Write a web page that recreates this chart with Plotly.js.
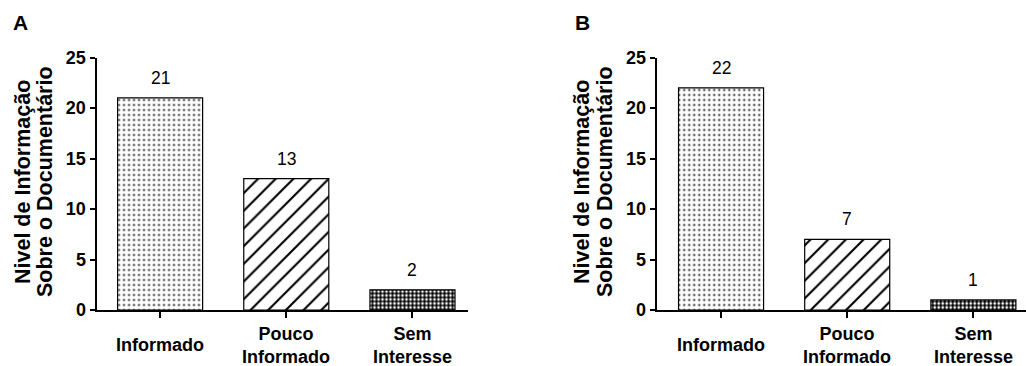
<!DOCTYPE html>
<html><head><meta charset="utf-8">
<script src="https://cdn.plot.ly/plotly-3.0.1.min.js"></script>
<style>html,body{margin:0;padding:0;background:#fff}</style>
</head><body><div id="chart" style="width:1026px;height:366px"></div>
<script>
const categories = ['Informado', 'Pouco Informado', 'Sem Interesse'];
const categoryLabels = ['Informado', 'Pouco<br>Informado', 'Sem<br>Interesse'];
const valuesA = [21, 13, 2];
const valuesB = [22, 7, 1];
const yTicks = [0, 5, 10, 15, 20, 25];
const panelLabels = ['A', 'B'];
const yTitleLines = ['Nivel de Informação', 'Sobre o Documentário'];

const FONT = 'Arial, "Liberation Sans", sans-serif';
const W = 1026, H = 366;
const pattern = {
  shape: ['.', '/', '.'],
  bgcolor: ['white', 'white', 'black'],
  fgcolor: ['black', 'black', 'white'],
  size: [5, 12.5, 4],
  solidity: [0.14, 0.17, 0.38],
  fillmode: 'replace'
};
function bar(vals, xa, ya) {
  return {
    type: 'bar', x: categories, y: vals, xaxis: xa, yaxis: ya,
    width: 0.674,
    marker: { color: 'white', line: { color: 'black', width: 1.2 }, pattern: pattern },
    hoverinfo: 'skip', showlegend: false
  };
}
const data = [bar(valuesA, 'x', 'y'), bar(valuesB, 'x2', 'y2')];

const yDomain = [56 / H, 308.5 / H];
function xax(domain, range, anchor) {
  return {
    domain: domain, range: range, type: 'category', anchor: anchor,
    showline: true, linewidth: 2, linecolor: 'black', mirror: false,
    ticks: 'outside', ticklen: 6, tickwidth: 2, tickcolor: 'black',
    showticklabels: false, showgrid: false, zeroline: false, fixedrange: true
  };
}
function yax(anchor) {
  return {
    domain: yDomain, range: [0, 25], anchor: anchor,
    tickvals: yTicks, ticktext: yTicks.map(String),
    showline: true, linewidth: 2, linecolor: 'black',
    ticks: 'outside', ticklen: 5, tickwidth: 2, tickcolor: 'black',
    tickfont: { family: FONT, size: 18, color: 'black', weight: 'bold' },
    showgrid: false, zeroline: false, fixedrange: true
  };
}
const annotations = [];
const panels = [
  { vals: valuesA, xref: 'x', yref: 'y', titleX: [23, 45], labelX: 20 },
  { vals: valuesB, xref: 'x2', yref: 'y2', titleX: [582, 605], labelX: 582.5 }
];
panels.forEach((p, pi) => {
  p.vals.forEach((v, i) => {
    annotations.push({
      x: categories[i], y: v, xref: p.xref, yref: p.yref,
      text: String(v), showarrow: false, yanchor: 'middle', yshift: 20,
      font: { family: FONT, size: 17.5, color: 'black' }
    });
    annotations.push({
      x: categories[i], y: (H - 345) / H, xref: p.xref, yref: 'paper',
      text: '<b>' + categoryLabels[i] + '</b>', showarrow: false,
      yanchor: 'middle', xanchor: 'center',
      font: { family: FONT, size: 18, color: 'black' }
    });
  });
  yTitleLines.forEach((t, li) => {
    annotations.push({
      x: p.titleX[li] / W, y: (H - 182) / H, xref: 'paper', yref: 'paper',
      text: '<b>' + t + '</b>', textangle: -90, showarrow: false,
      xanchor: 'center', yanchor: 'middle',
      font: { family: FONT, size: 21.5, color: 'black' }
    });
  });
  annotations.push({
    x: p.labelX / W, y: (H - 22.5) / H, xref: 'paper', yref: 'paper',
    text: '<b>' + panelLabels[pi] + '</b>', showarrow: false,
    xanchor: 'center', yanchor: 'middle',
    font: { family: FONT, size: 21, color: 'black' }
  });
});

const layout = {
  width: W, height: H,
  margin: { l: 0, r: 0, t: 0, b: 0 },
  paper_bgcolor: 'white', plot_bgcolor: 'white',
  font: { family: FONT, color: 'black' },
  xaxis: xax([96.5 / W, 468 / W], [-0.504, 2.44], 'y'),
  yaxis: yax('x'),
  xaxis2: xax([656.7 / W, 1], [-0.51, 2.417], 'y2'),
  yaxis2: yax('x2'),
  annotations: annotations,
  showlegend: false
};
Plotly.newPlot('chart', data, layout, { displayModeBar: false, staticPlot: true });
</script></body></html>
